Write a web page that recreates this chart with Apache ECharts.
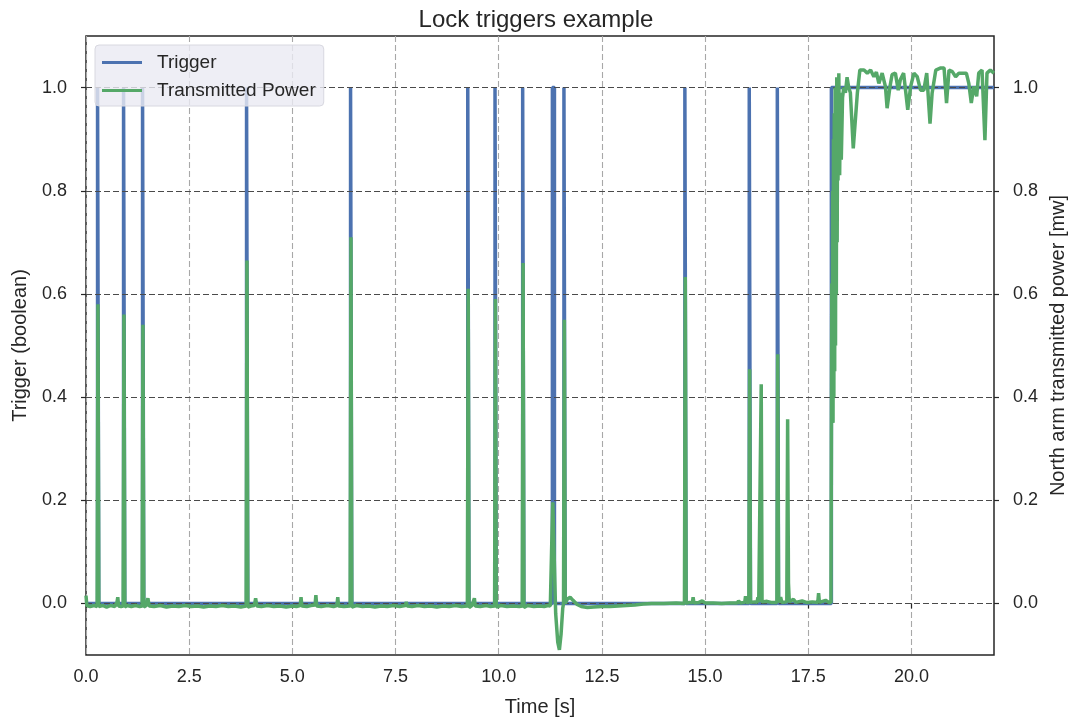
<!DOCTYPE html>
<html>
<head>
<meta charset="utf-8">
<title>Lock triggers example</title>
<script src="https://cdn.jsdelivr.net/npm/echarts@6/dist/echarts.min.js"></script>
<style>
  html, body { margin: 0; padding: 0; background: #fff; }
  #main { width: 1072px; height: 722px; }
</style>
</head>
<body>
<div id="main"></div>
<script>
// trigger pulses: [start, end] in seconds (last one stays high to the end)
var triggerPulses = [
  [0.28, 0.31], [0.91, 0.94], [1.37, 1.40], [3.89, 3.92], [6.41, 6.44],
  [9.25, 9.28], [9.91, 9.94], [10.58, 10.61], [11.30, 11.35], [11.58, 11.61],
  [14.51, 14.54], [16.07, 16.10], [16.75, 16.78], [18.06, 22.0]
];

// transmitted power [time, mw]
var powerPoints = [
  [0.00, 0.015], [0.02, -0.004], [0.10, -0.006], [0.20, -0.004], [0.27, -0.006], [0.29, 0.58], [0.31, -0.006],
  [0.40, -0.004], [0.50, -0.007], [0.60, -0.004], [0.70, -0.006], [0.75, 0.002], [0.77, 0.012], [0.79, -0.005],
  [0.85, -0.006], [0.90, -0.005], [0.92, 0.56], [0.94, -0.007], [1.00, -0.004], [1.10, -0.006], [1.20, -0.004],
  [1.30, -0.006], [1.36, -0.005], [1.38, 0.54], [1.40, -0.007], [1.46, -0.004], [1.50, 0.010], [1.53, -0.005],
  [1.65, -0.006], [1.80, -0.004], [1.95, -0.007], [2.10, -0.005], [2.25, -0.006], [2.40, -0.004], [2.55, -0.006],
  [2.70, -0.005], [2.85, -0.007], [3.00, -0.005], [3.15, -0.006], [3.30, -0.004], [3.45, -0.006], [3.60, -0.005],
  [3.75, -0.007], [3.88, -0.005], [3.90, 0.665], [3.92, -0.007], [4.00, -0.005], [4.08, -0.004], [4.11, 0.010],
  [4.14, -0.005], [4.25, -0.006], [4.40, -0.004], [4.55, -0.006], [4.70, -0.005], [4.85, -0.007], [5.00, -0.005],
  [5.10, -0.006], [5.19, -0.004], [5.21, 0.012], [5.23, -0.005], [5.35, -0.006], [5.45, -0.004], [5.55, -0.003],
  [5.57, 0.016], [5.59, -0.005], [5.70, -0.006], [5.85, -0.004], [6.00, -0.006], [6.08, -0.004], [6.10, 0.012],
  [6.12, -0.005], [6.25, -0.006], [6.40, -0.005], [6.42, 0.71], [6.44, -0.007], [6.55, -0.004], [6.70, -0.006],
  [6.85, -0.005], [7.00, -0.007], [7.15, -0.005], [7.30, -0.006], [7.45, -0.004], [7.60, -0.006], [7.74, -0.004],
  [7.76, 0.003], [7.78, -0.005], [7.90, -0.006], [8.05, -0.004], [8.20, -0.006], [8.35, -0.005], [8.50, -0.007],
  [8.65, -0.005], [8.80, -0.006], [8.95, -0.004], [9.10, -0.006], [9.24, -0.005], [9.26, 0.61], [9.28, -0.008],
  [9.35, -0.004], [9.39, -0.004], [9.41, 0.010], [9.43, -0.005], [9.55, -0.006], [9.70, -0.004], [9.80, -0.006],
  [9.90, -0.005], [9.92, 0.59], [9.94, -0.007], [10.05, -0.004], [10.20, -0.006], [10.35, -0.005], [10.50, -0.006],
  [10.57, -0.005], [10.59, 0.66], [10.61, -0.008], [10.70, -0.004], [10.85, -0.006], [11.00, -0.005], [11.10, -0.006],
  [11.20, -0.004], [11.25, -0.005], [11.28, 0.10], [11.31, 0.196], [11.34, 0.10], [11.38, -0.02], [11.43, -0.075],
  [11.47, -0.09], [11.51, -0.06], [11.55, -0.01], [11.57, 0.0], [11.59, 0.55], [11.61, 0.0], [11.66, 0.008],
  [11.73, 0.012], [11.80, 0.006], [11.90, -0.002], [12.00, -0.006], [12.15, -0.008], [12.30, -0.007], [12.50, -0.006],
  [12.70, -0.006], [12.90, -0.005], [13.10, -0.004], [13.30, -0.003], [13.50, -0.001], [13.70, 0.0], [14.00, 0.0],
  [14.30, 0.001], [14.50, 0.0], [14.52, 0.633], [14.54, 0.0], [14.62, 0.002], [14.69, 0.001], [14.71, 0.012],
  [14.73, 0.001], [14.85, 0.002], [14.93, 0.005], [15.00, 0.001], [15.20, 0.001], [15.40, 0.0], [15.60, 0.001],
  [15.78, 0.001], [15.81, 0.005], [15.85, 0.001], [15.96, 0.002], [15.98, 0.014], [16.00, 0.002], [16.06, 0.002],
  [16.08, 0.454], [16.10, 0.002], [16.20, 0.003], [16.26, 0.002], [16.28, 0.012], [16.30, 0.003], [16.34, 0.002],
  [16.36, 0.425], [16.38, 0.003], [16.50, 0.004], [16.60, 0.002], [16.74, 0.002], [16.76, 0.483], [16.78, 0.002],
  [16.83, 0.012], [16.86, 0.002], [16.98, 0.003], [17.00, 0.357], [17.02, 0.04], [17.04, 0.003], [17.14, 0.008],
  [17.20, 0.002], [17.35, 0.005], [17.45, 0.002], [17.60, 0.003], [17.73, 0.002], [17.75, 0.02], [17.77, 0.002],
  [17.92, 0.006], [18.00, 0.002], [18.05, 0.002], [18.06, 0.30], [18.07, 0.62], [18.08, 0.36], [18.09, 0.80],
  [18.10, 0.35], [18.11, 0.90], [18.12, 0.40], [18.13, 0.95], [18.14, 0.45], [18.15, 1.0], [18.16, 0.50],
  [18.17, 0.98], [18.18, 0.60], [18.19, 1.02], [18.20, 0.70], [18.21, 0.95], [18.22, 0.82], [18.24, 1.028],
  [18.26, 0.83], [18.28, 0.99], [18.30, 0.86], [18.33, 0.98], [18.36, 1.00], [18.40, 0.99], [18.44, 1.02],
  [18.48, 1.0], [18.52, 0.99], [18.59, 0.882], [18.63, 0.879], [18.69, 0.99], [18.75, 1.034], [18.85, 1.034],
  [18.93, 1.028], [19.01, 1.034], [19.09, 1.021], [19.15, 1.03], [19.21, 1.008], [19.29, 1.028], [19.37, 1.002],
  [19.41, 0.96], [19.48, 1.002], [19.53, 1.025], [19.61, 1.028], [19.68, 0.995], [19.73, 1.015], [19.81, 1.028],
  [19.91, 0.957], [19.98, 1.002], [20.06, 1.028], [20.14, 1.021], [20.22, 0.995], [20.30, 0.995], [20.37, 1.028],
  [20.45, 0.93], [20.50, 0.989], [20.59, 1.034], [20.71, 1.038], [20.79, 1.038], [20.85, 0.97], [20.91, 1.034],
  [20.99, 1.031], [21.07, 1.021], [21.15, 1.028], [21.23, 1.028], [21.33, 1.028], [21.39, 1.008], [21.45, 0.97],
  [21.51, 1.002], [21.58, 0.983], [21.63, 1.028], [21.71, 1.034], [21.78, 0.898], [21.83, 1.028], [21.91, 1.034],
  [22.0, 1.028]
];

var xTicks = [0, 2.5, 5, 7.5, 10, 12.5, 15, 17.5, 20];
var yTicks = [0, 0.2, 0.4, 0.6, 0.8, 1.0];

var TXT = '#262626';
var FONT = 'Liberation Sans';

// step line for the trigger
var triggerPoints = [[0, 0]];
triggerPulses.forEach(function (p) {
  triggerPoints.push([p[0], 0], [p[0], 1], [p[1], 1]);
  if (p[1] < 22) triggerPoints.push([p[1], 0]);
});

function yAxisCfg(pos, name, gap) {
  return {
    type: 'value',
    position: pos,
    min: -0.1,
    max: 1.1,
    name: name,
    nameLocation: 'middle',
    nameGap: gap,
    nameTextStyle: { color: TXT, fontSize: 20, fontFamily: FONT },
    axisLine: { show: false },
    axisTick: { show: true, length: 5, customValues: yTicks, lineStyle: { color: TXT, width: 1.2 } },
    axisLabel: {
      color: TXT, fontSize: 18, fontFamily: FONT, margin: 19,
      customValues: yTicks,
      formatter: function (v) { return v.toFixed(1); }
    },
    splitLine: { show: false }
  };
}

var left = yAxisCfg('left', 'Trigger (boolean)', 56);
var right = yAxisCfg('right', 'North arm transmitted power [mw]', 53);
right.z = 3;
right.splitLine = { show: true, lineStyle: { color: '#4a4a4a', type: [6, 3], width: 1.1 } };

var chart = echarts.init(document.getElementById('main'));
chart.setOption({
  animation: false,
  backgroundColor: '#fff',
  title: {
    text: 'Lock triggers example',
    left: 'center',
    top: 3,
    textStyle: { color: TXT, fontSize: 24, fontWeight: 'normal', fontFamily: FONT }
  },
  legend: {
    orient: 'vertical',
    left: 95,
    top: 45,
    z: 10,
    icon: 'rect',
    itemWidth: 40,
    itemHeight: 3,
    itemGap: 9,
    padding: [8, 8, 6, 7],
    backgroundColor: 'rgba(234,234,242,0.8)',
    borderColor: '#d8d8e0',
    borderWidth: 1,
    borderRadius: 4,
    textStyle: { color: TXT, fontSize: 19, fontFamily: FONT, padding: [0, 0, 0, 10] },
    data: ['Trigger', 'Transmitted Power']
  },
  grid: {
    left: 86, right: 78, top: 36, bottom: 67,
    outerBoundsMode: 'none',
    containLabel: false,
    show: true,
    borderColor: TXT,
    borderWidth: 1.5,
    backgroundColor: 'transparent'
  },
  xAxis: {
    type: 'value',
    min: 0,
    max: 22,
    name: 'Time [s]',
    nameLocation: 'middle',
    nameGap: 42,
    nameTextStyle: { color: TXT, fontSize: 20, fontFamily: FONT },
    axisLine: { show: false },
    axisTick: { show: true, length: 5, customValues: xTicks, lineStyle: { color: TXT, width: 1.2 } },
    axisLabel: {
      color: TXT, fontSize: 18, fontFamily: FONT, margin: 13,
      customValues: xTicks,
      formatter: function (v) { return v.toFixed(1); }
    },
    interval: 2.5,
    splitLine: { show: true, lineStyle: { color: '#a8a8a8', type: [6, 3], width: 1.1 } }
  },
  yAxis: [left, right],
  series: [
    {
      name: 'Trigger',
      type: 'line',
      yAxisIndex: 0,
      data: triggerPoints,
      showSymbol: false,
      z: 2,
      color: '#4c72b0',
      lineStyle: { width: 3.5, color: '#4c72b0' }
    },
    {
      name: 'Transmitted Power',
      type: 'line',
      yAxisIndex: 1,
      data: powerPoints,
      showSymbol: false,
      z: 4,
      color: '#55a868',
      lineStyle: { width: 3.5, color: '#55a868' }
    }
  ]
});
window.addEventListener('resize', chart.resize);
</script>
</body>
</html>
